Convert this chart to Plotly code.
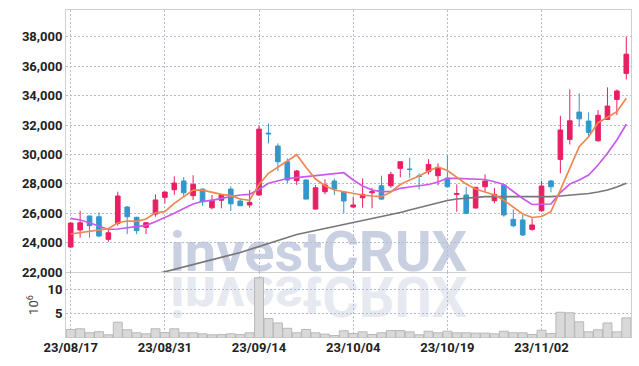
import plotly.graph_objects as go

dates = (
    ["23/08/%02d" % d for d in [17, 18, 21, 22, 23, 24, 25, 28, 29, 30, 31]]
    + ["23/09/%02d" % d for d in [1, 4, 5, 6, 7, 8, 11, 12, 13, 14, 15, 18, 19, 20, 21, 22, 25, 26, 27]]
    + ["23/10/%02d" % d for d in [4, 5, 6, 10, 11, 12, 13, 16, 17, 18, 19, 20, 23, 24, 25, 26, 27, 30, 31]]
    + ["23/11/%02d" % d for d in [1, 2, 3, 6, 7, 8, 9, 10, 13, 14, 15]]
)

open_ = [23700, 24860, 25810, 25760, 24220, 25310, 26420, 25720, 25040, 25940,
         27080, 27600, 28190, 27190, 27640, 26370, 26880, 27640, 26830, 26560,
         27240, 31450, 30570, 29500, 28210, 28260, 26280, 27460, 28190, 27420,
         26420, 27050, 27390, 27870, 27870, 29050, 29000, 28530, 28820, 28550,
         28390, 27280, 27240, 26350, 27800, 26850, 27920, 25580, 25540, 24900,
         26170, 28190, 29660, 31020, 32880, 32270, 30930, 32380, 33740, 35510]
high = [25400, 26170, 25830, 26060, 24970, 27460, 26490, 25760, 25400, 27280,
        27460, 28510, 28460, 28580, 27680, 27240, 27260, 27830, 27010, 27580,
        31950, 32110, 30750, 29730, 28940, 28280, 27920, 28300, 28370, 27440,
        27120, 28370, 27730, 28550, 28820, 29520, 29770, 28710, 29680, 29390,
        29930, 27960, 27800, 27790, 28640, 27730, 27940, 26260, 25880, 25650,
        28190, 28260, 32630, 34420, 34150, 32860, 33020, 34560, 34420, 38000]
low = [23650, 24330, 24330, 24360, 24060, 25150, 24580, 24580, 24580, 25760,
       26670, 27240, 27120, 26900, 26510, 26260, 26330, 26150, 26480, 26370,
       27200, 30750, 28870, 28030, 27920, 26940, 26260, 27280, 27240, 25990,
       26330, 26370, 26330, 26900, 27730, 28440, 28410, 27620, 28640, 27900,
       27780, 26100, 25970, 26330, 27460, 26670, 25760, 25040, 24450, 24810,
       26100, 27420, 28710, 30680, 31880, 31250, 30860, 32340, 32680, 35100]
close = [25330, 25350, 25150, 24450, 24670, 27170, 25760, 24810, 25350, 26900,
         27440, 28050, 27390, 27960, 26780, 26880, 27240, 26640, 26510, 26740,
         31720, 31400, 29500, 28260, 28870, 26960, 27730, 27920, 27640, 26830,
         26560, 27280, 27460, 26960, 28640, 29500, 28980, 28510, 29320, 29090,
         27800, 27330, 25990, 27760, 28190, 27280, 25880, 25150, 24520, 25200,
         27850, 27800, 31660, 32290, 32420, 31500, 32660, 33290, 34310, 36820]

ma_short = [24585, 24674, 24769, 24857, 24946, 25354, 25470, 25449, 25606, 26034,
            26102, 26674, 27123, 27578, 27565, 27408, 27286, 27191, 26966, 26878,
            27953, 28715, 29164, 29551, 29980, 29110, 28327, 27871, 27578, 27463,
            27374, 27238, 27170, 27123, 27442, 27953, 28259, 28531, 28871, 29143,
            28905, 28463, 27987, 27646, 27463, 27238, 26878, 26442, 25946, 25708,
            25776, 26102, 27612, 29055, 30524, 31204, 32157, 32524, 32905, 33817]
ma_mid = [25653, 25538, 25354, 25129, 24891, 24925, 25014, 25082, 25177, 25422,
          25694, 25993, 26320, 26626, 26810, 26878, 27014, 27123, 27238, 27286,
          27612, 28034, 28191, 28361, 28415, 28483, 28551, 28599, 28715, 28755,
          28259, 27851, 27578, 27463, 27477, 27694, 27783, 27885, 27953, 28123,
          28374, 28374, 28361, 28347, 28293, 28143, 27953, 27476, 27000, 26592,
          26606, 26626, 27408, 27987, 28259, 28599, 29280, 30075, 30980, 32048]
ma_long = [None, None, None, None, None, None, None, None, None, 21850,
           22014, 22170, 22340, 22510, 22667, 22816, 22986, 23156, 23327, 23531,
           23721, 23939, 24143, 24347, 24551, 24687, 24823, 24959, 25095, 25231,
           25333, 25469, 25605, 25742, 25878, 26048, 26218, 26388, 26524, 26694,
           26864, 26966, 27034, 27102, 27123, 27136, 27136, 27123, 27102, 27102,
           27102, 27123, 27170, 27218, 27272, 27340, 27442, 27578, 27782, 28034]

volume = [1.75, 1.9, 1.07, 1.3, 0.66, 3.25, 1.7, 1.07, 0.86, 1.9,
          1.13, 1.9, 1.07, 1.07, 0.86, 0.66, 0.7, 0.86, 0.7, 1.07,
          12.4, 4.0, 3.1, 2.0, 1.07, 1.75, 1.07, 0.8, 0.5, 1.48,
          0.93, 1.27, 0.72, 1.07, 1.54, 1.54, 1.27, 0.66, 1.4, 1.07,
          1.4, 1.07, 1.07, 1.0, 1.0, 0.86, 1.4, 1.07, 1.07, 0.72,
          1.6, 0.93, 5.3, 5.2, 3.33, 1.27, 1.7, 3.1, 1.27, 4.15]

date_ticks = ["23/08/17", "23/08/31", "23/09/14", "23/10/04", "23/10/19", "23/11/02"]
price_ticks = list(range(22000, 38001, 2000))
volume_ticks = [5, 10]

UP = "#E91E63"
DOWN = "#3397CB"
GRID = "#b4bbd0"
DOTS = "2px,2px"
BORDER = "#cfcfcf"
FONT = "Roboto, sans-serif"
TICKFONT = dict(family=FONT, size=13, color="#222", weight="bold")

fig = go.Figure()
fig.add_trace(go.Bar(x=dates, y=volume, xaxis="x2", yaxis="y2",
                     marker=dict(color="#d9d9d9", line=dict(color="#b8b8b8", width=1)),
                     showlegend=False, hoverinfo="skip"))
fig.add_trace(go.Candlestick(x=dates, open=open_, high=high, low=low, close=close,
                             increasing=dict(line=dict(color=UP, width=1), fillcolor=UP),
                             decreasing=dict(line=dict(color=DOWN, width=1), fillcolor=DOWN),
                             showlegend=False))
fig.add_trace(go.Scatter(x=dates, y=ma_long, mode="lines", line=dict(color="#777777", width=1.7), showlegend=False))
fig.add_trace(go.Scatter(x=dates, y=ma_mid, mode="lines", line=dict(color="#C95AEA", width=1.7), showlegend=False))
fig.add_trace(go.Scatter(x=dates, y=ma_short, mode="lines", line=dict(color="#F0874F", width=1.7), showlegend=False))

split = (338 - 272) / 328

fig.update_layout(
    width=639, height=366, autosize=False,
    margin=dict(l=66, r=8, t=10, b=28),
    paper_bgcolor="white", plot_bgcolor="white",
    font=dict(family=FONT, size=13, color="#222"),
    showlegend=False,
    xaxis=dict(type="category", range=[-0.5, 59.5], anchor="y", matches="x2",
               showticklabels=False, tickvals=date_ticks, ticks="",
               showgrid=True, gridcolor=GRID, griddash=DOTS, gridwidth=1,
               showline=True, mirror=True, linecolor=BORDER, linewidth=1,
               rangeslider=dict(visible=False)),
    xaxis2=dict(type="category", range=[-0.5, 59.5], anchor="y2",
                tickvals=date_ticks, ticks="", tickfont=TICKFONT,
                showgrid=True, gridcolor=GRID, griddash=DOTS, gridwidth=1,
                showline=False),
    yaxis=dict(domain=[split, 1], range=[22000, 39824], tickvals=price_ticks,
               tickformat=",", ticks="", tickfont=TICKFONT,
               showgrid=True, gridcolor=GRID, griddash=DOTS,
               showline=True, mirror=True, linecolor=BORDER, zeroline=False),
    yaxis2=dict(domain=[0, split], range=[0, 13.6], tickvals=volume_ticks, ticks="",
                tickfont=TICKFONT,
                showgrid=True, gridcolor=GRID, griddash=DOTS,
                showline=True, mirror=True, linecolor=BORDER, zeroline=False,
                title=dict(text="10<sup>6</sup>", font=dict(size=13, color="#444"), standoff=5)),
    bargap=0.05,
    annotations=[
        dict(text="<b>investCRUX</b>", xref="paper", yref="paper", x=0.447, y=0.262,
             xanchor="center", yanchor="middle", showarrow=False,
             font=dict(family=FONT, size=56, color="#c9d0e2")),
        dict(text="<b>investCRUX</b>", xref="paper", yref="paper", x=0.447, y=0.128,
             xanchor="center", yanchor="middle", showarrow=False,
             font=dict(family=FONT, size=56, color="#e7e9f1")),
    ],
)

post = """
var gd = document.getElementById('{plot_id}');
var below = gd.querySelector('.layer-below');
var anns = gd.querySelectorAll('g.annotation');
for (var i = 0; i < anns.length; i++) { below.appendChild(anns[i]); }
if (anns.length > 1) {
  var t = anns[1].querySelector('text');
  var bb = t.getBBox();
  var cy = bb.y + bb.height / 2;
  t.setAttribute('transform', 'translate(0,' + (2 * cy) + ') scale(1,-1)');
}
"""

fig.write_html("out.html", post_script=post)
